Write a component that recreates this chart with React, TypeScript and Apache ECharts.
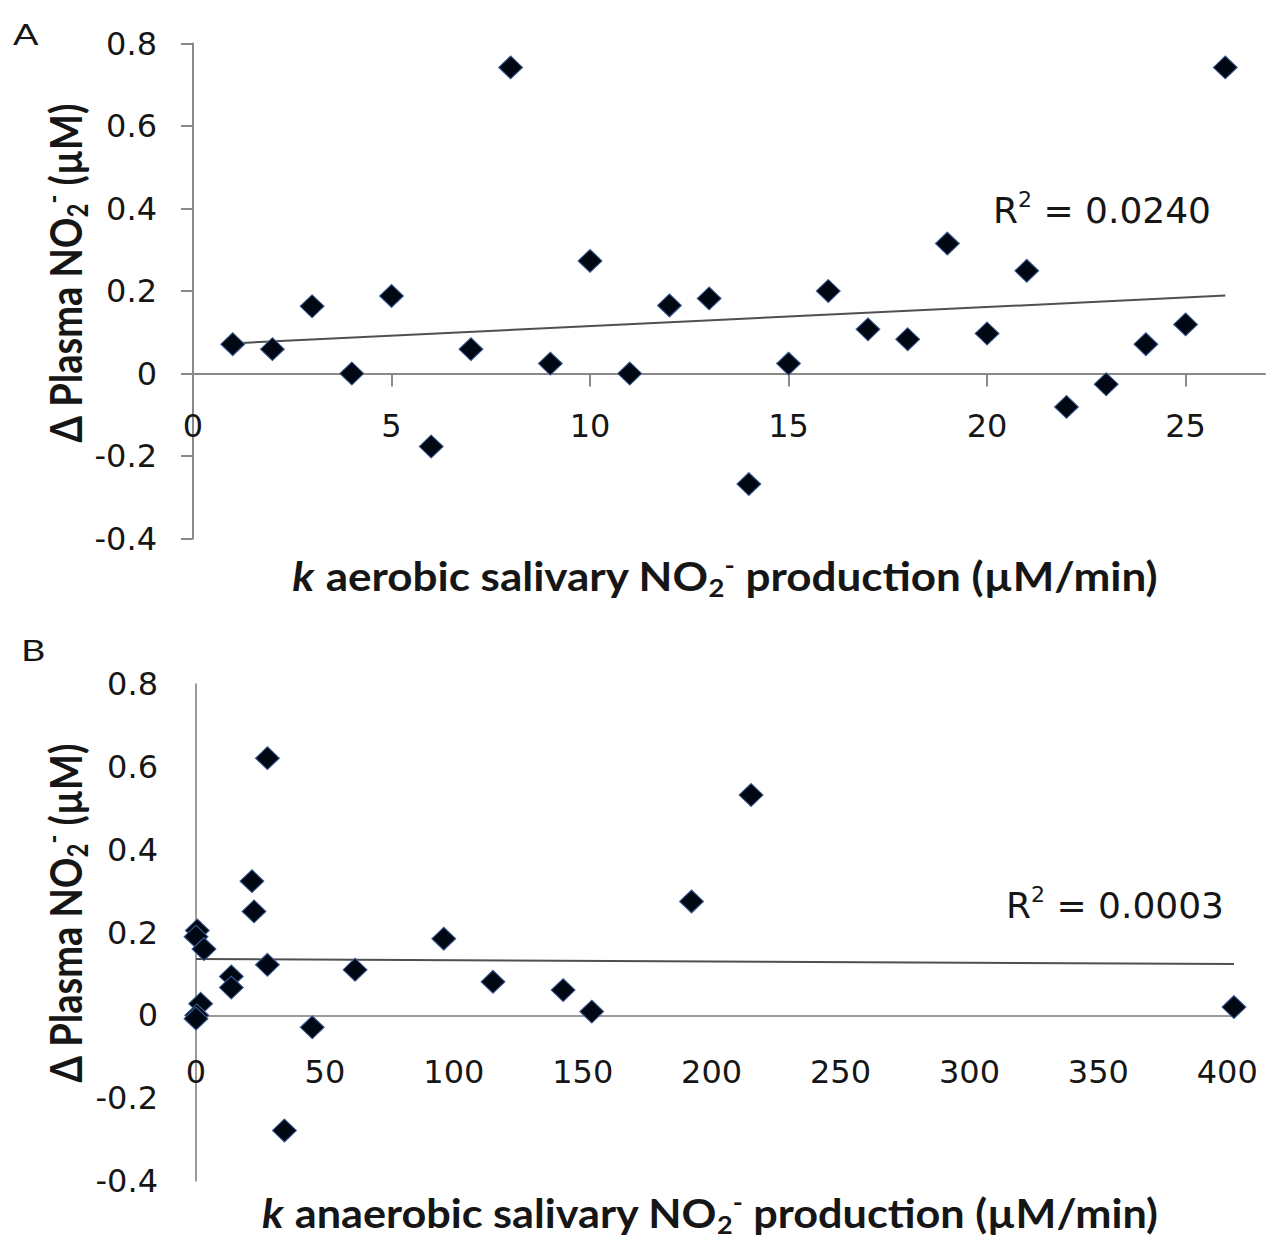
import React, { useEffect, useRef } from "react";
import * as echarts from "echarts";

// ---------- Data ----------
const aerobicK = [1, 2, 3, 4, 5, 6, 7, 8, 9, 10, 11, 12, 13, 14, 15, 16, 17, 18, 19, 20, 21, 22, 23, 24, 25, 26];
const aerobicDelta = [0.071, 0.059, 0.163, 0.0, 0.188, -0.177, 0.059, 0.742, 0.024, 0.273, 0.0, 0.165, 0.182, -0.268, 0.024, 0.2, 0.107, 0.083, 0.315, 0.097, 0.249, -0.081, -0.026, 0.071, 0.119, 0.742];

const anaerobicK = [0.5, 0.0, 3.1, 21.7, 22.5, 27.7, 27.7, 13.7, 13.7, 61.7, 1.8, 0.3, 0.0, 45.1, 34.3, 96.1, 115.2, 142.4, 153.5, 215.3, 192.2, 402.6];
const anaerobicDelta = [0.205, 0.19, 0.16, 0.324, 0.251, 0.621, 0.122, 0.094, 0.067, 0.11, 0.028, 0.0, -0.008, -0.029, -0.278, 0.185, 0.081, 0.061, 0.009, 0.532, 0.275, 0.02];

const trendAX = [1, 26];
const trendAY = [0.073, 0.189];
const trendBX = [0, 402.6];
const trendBY = [0.136, 0.124];

const xTicksA = [0, 5, 10, 15, 20, 25];
const xTicksB = [0, 50, 100, 150, 200, 250, 300, 350, 400];
const r2A = "0.0240";
const r2B = "0.0003";

// ---------- Styles ----------
const TICK_FONT = "DejaVu Sans";
const TITLE_FONT = "Lato";
const AXIS_GRAY = "#8a8a8a";
const TEXT = "#161616";

const zip = (xs: number[], ys: number[]) => xs.map((x, i) => [x, ys[i]]);
const fmtY = (v: number) => {
  const r = Math.round(v * 10) / 10;
  return r === 0 ? "0" : String(r);
};

const titleRich = {
  m: { fontFamily: TITLE_FONT, fontWeight: "bold", fontSize: 40, lineHeight: 48, fill: TEXT },
  i: { fontFamily: TITLE_FONT, fontWeight: "bold", fontStyle: "italic", fontSize: 40, lineHeight: 48, fill: TEXT },
  s: { fontFamily: TITLE_FONT, fontWeight: "bold", fontSize: 25, verticalAlign: "bottom", fill: TEXT },
  p: { fontFamily: TITLE_FONT, fontWeight: "bold", fontSize: 25, verticalAlign: "top", fill: TEXT },
};

const yTitleRich = {
  m: { fontFamily: TITLE_FONT, fontWeight: "bold", fontSize: 38, lineHeight: 46, fill: TEXT },
  s: { fontFamily: TITLE_FONT, fontWeight: "bold", fontSize: 24, verticalAlign: "bottom", fill: TEXT },
  p: { fontFamily: TITLE_FONT, fontWeight: "bold", fontSize: 24, verticalAlign: "top", fill: TEXT },
};

const r2Rich = {
  n: { fontFamily: TICK_FONT, fontSize: 36, lineHeight: 44, fill: TEXT },
  p: { fontFamily: TICK_FONT, fontSize: 22, verticalAlign: "top", fill: TEXT },
};

const markerStyle = {
  color: "#000814",
  borderColor: "#3f5f99",
  borderWidth: 1,
  opacity: 1,
};

function makeXAxis(gridIndex: number, max: number, interval: number, ticks: number[], showTicks: boolean, margin: number, offset: number, lineColor: string, lineWidth: number) {
  return {
    type: "value",
    gridIndex,
    min: 0,
    max,
    interval,
    offset,
    splitLine: { show: false },
    axisLine: { show: true, onZero: false, lineStyle: { color: lineColor, width: lineWidth } },
    axisTick: { show: showTicks, length: 13, lineStyle: { color: lineColor, width: lineWidth }, customValues: ticks },
    axisLabel: {
      customValues: ticks,
      fontFamily: TICK_FONT,
      fontSize: 32,
      color: TEXT,
      margin,
    },
  };
}

function makeYAxis(gridIndex: number, showTicks: boolean, margin: number, lineColor: string, lineWidth: number) {
  return {
    type: "value",
    gridIndex,
    min: -0.4,
    max: 0.8,
    interval: 0.2,
    splitLine: { show: false },
    axisLine: { show: true, onZero: false, lineStyle: { color: lineColor, width: lineWidth } },
    axisTick: { show: showTicks, length: 12, lineStyle: { color: lineColor, width: lineWidth } },
    axisLabel: {
      fontFamily: TICK_FONT,
      fontSize: 32,
      color: TEXT,
      margin,
      formatter: fmtY,
    },
  };
}

export default function App() {
  const ref = useRef<HTMLDivElement>(null);

  useEffect(() => {
    document.body.style.margin = "0";
    if (!ref.current) return;
    const chart = echarts.init(ref.current, undefined, { renderer: "svg" });

    const option: any = {
      animation: false,
      backgroundColor: "#ffffff",
      grid: [
        { left: 193, top: 43.5, width: 1072, height: 495 },
        { left: 196, top: 684, width: 1039, height: 497 },
      ],
      xAxis: [
        makeXAxis(0, 27, 5, xTicksA, true, 36, -165, AXIS_GRAY, 2),
        makeXAxis(1, 403, 50, xTicksB, false, 41, -165.7, "#7a7a7a", 1.5),
      ],
      yAxis: [makeYAxis(0, true, 36, AXIS_GRAY, 2), makeYAxis(1, false, 38, "#7a7a7a", 1.5)],
      series: [
        {
          type: "line",
          xAxisIndex: 0,
          yAxisIndex: 0,
          data: zip(trendAX, trendAY),
          symbol: "none",
          lineStyle: { color: "#505050", width: 2 },
          z: 1,
        },
        {
          type: "scatter",
          xAxisIndex: 0,
          yAxisIndex: 0,
          data: zip(aerobicK, aerobicDelta),
          symbol: "diamond",
          symbolSize: [24, 23],
          itemStyle: markerStyle,
          z: 3,
        },
        {
          type: "line",
          xAxisIndex: 1,
          yAxisIndex: 1,
          data: zip(trendBX, trendBY),
          symbol: "none",
          lineStyle: { color: "#505050", width: 2 },
          z: 1,
        },
        {
          type: "scatter",
          xAxisIndex: 1,
          yAxisIndex: 1,
          data: zip(anaerobicK, anaerobicDelta),
          symbol: "diamond",
          symbolSize: [24, 23],
          itemStyle: markerStyle,
          z: 3,
        },
      ],
      graphic: [
        {
          type: "text",
          x: 13,
          y: 19,
          scaleX: 1.3,
          style: { text: "A", fontFamily: TITLE_FONT, fontSize: 29, fill: TEXT },
        },
        {
          type: "text",
          x: 21,
          y: 635,
          scaleX: 1.3,
          style: { text: "B", fontFamily: TITLE_FONT, fontSize: 29, fill: TEXT },
        },
        {
          type: "text",
          x: 65,
          y: 273,
          rotation: Math.PI / 2,
          scaleY: 1.15,
          style: {
            text: "{m|Δ Plasma NO}{s|2}{p|-}{m| (µM)}",
            rich: yTitleRich,
            align: "center",
            verticalAlign: "middle",
          },
        },
        {
          type: "text",
          x: 65,
          y: 913,
          rotation: Math.PI / 2,
          scaleY: 1.15,
          style: {
            text: "{m|Δ Plasma NO}{s|2}{p|-}{m| (µM)}",
            rich: yTitleRich,
            align: "center",
            verticalAlign: "middle",
          },
        },
        {
          type: "text",
          x: 725,
          y: 576,
          scaleX: 1.1,
          style: {
            text: "{i|k}{m| aerobic salivary NO}{s|2}{p|-}{m| production (µM/min)}",
            rich: titleRich,
            align: "center",
            verticalAlign: "middle",
          },
        },
        {
          type: "text",
          x: 710,
          y: 1213,
          scaleX: 1.08,
          style: {
            text: "{i|k}{m| anaerobic salivary NO}{s|2}{p|-}{m| production (µM/min)}",
            rich: titleRich,
            align: "center",
            verticalAlign: "middle",
          },
        },
        {
          type: "text",
          x: 993,
          y: 210,
          style: {
            text: "{n|R}{p|2}{n| = " + r2A + "}",
            rich: r2Rich,
            align: "left",
            verticalAlign: "middle",
          },
        },
        {
          type: "text",
          x: 1006,
          y: 905,
          style: {
            text: "{n|R}{p|2}{n| = " + r2B + "}",
            rich: r2Rich,
            align: "left",
            verticalAlign: "middle",
          },
        },
      ],
    };

    chart.setOption(option);
    return () => chart.dispose();
  }, []);

  return <div ref={ref} style={{ width: 1277, height: 1246 }} />;
}
